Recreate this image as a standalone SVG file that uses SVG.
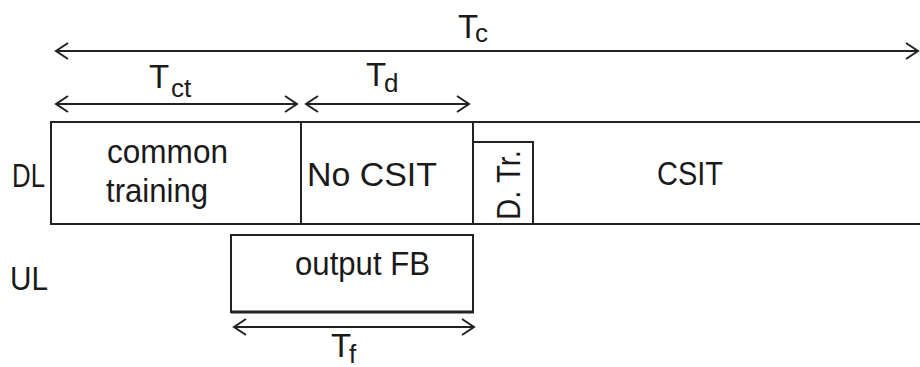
<svg xmlns="http://www.w3.org/2000/svg" width="920" height="367" viewBox="0 0 920 367">
<style>
text{font-family:"Liberation Sans",Arial,sans-serif;fill:#1a1a1a}
.lbl{font-size:33px}
.sub{font-size:26px}
.box{fill:#fff;stroke:#222;stroke-width:2}
.ln{stroke:#222;stroke-width:2;fill:none}
.dim{stroke:#222;stroke-width:2;fill:none;marker-start:url(#chev);marker-end:url(#chev)}
</style>
<defs>
<marker id="chev" markerUnits="userSpaceOnUse" viewBox="-14 -10 16 20" refX="0" refY="0" markerWidth="16" markerHeight="20" orient="auto-start-reverse">
<path d="M-12,-8 L0,0 L-12,8" fill="none" stroke="#222" stroke-width="2"/>
</marker>
</defs>
<rect width="920" height="367" fill="#fff"/>

<g id="dl-frame">
<path class="ln" d="M921,122 H51 V224 H921"/>
</g>
<g id="common-training">
<path class="ln" d="M301,122 V224"/>
<text class="lbl" x="107" y="163" textLength="121" lengthAdjust="spacingAndGlyphs">common</text>
<text class="lbl" x="106" y="202" textLength="102" lengthAdjust="spacingAndGlyphs">training</text>
</g>
<g id="no-csit">
<path class="ln" d="M473,122 V224"/>
<text class="lbl" x="307" y="186" textLength="130" lengthAdjust="spacingAndGlyphs">No CSIT</text>
</g>
<g id="d-tr">
<rect class="box" x="473" y="142" width="60" height="82"/>
<text class="lbl" transform="translate(520,220) rotate(-90)" textLength="70" lengthAdjust="spacingAndGlyphs">D. Tr.</text>
</g>
<g id="csit">
<text class="lbl" x="657" y="185" textLength="66" lengthAdjust="spacingAndGlyphs">CSIT</text>
</g>
<g id="output-fb">
<rect class="box" x="231" y="235" width="242" height="77"/>
<path d="M231,312 H474" stroke="#222" stroke-width="3"/>
<text class="lbl" x="295" y="275" textLength="135" lengthAdjust="spacingAndGlyphs">output FB</text>
</g>
<g id="dl-label"><text class="lbl" x="12" y="187" textLength="33" lengthAdjust="spacingAndGlyphs">DL</text></g>
<g id="ul-label"><text class="lbl" x="10" y="290" textLength="38" lengthAdjust="spacingAndGlyphs">UL</text></g>

<g id="connectors">
<path class="dim" d="M56,51 H918"/>
<path class="dim" d="M56,104 H297"/>
<path class="dim" d="M306,104 H469"/>
<path class="dim" d="M234,327 H474"/>
</g>
<g id="dim-labels">
<text class="lbl" x="458" y="38">T<tspan class="sub" x="475" y="42">c</tspan></text>
<text class="lbl" x="149" y="88">T<tspan class="sub" x="171" y="97">ct</tspan></text>
<text class="lbl" x="366" y="86">T<tspan class="sub" x="384" y="92">d</tspan></text>
<text class="lbl" x="331" y="357">T<tspan class="sub" x="349" y="363">f</tspan></text>
</g>
</svg>
